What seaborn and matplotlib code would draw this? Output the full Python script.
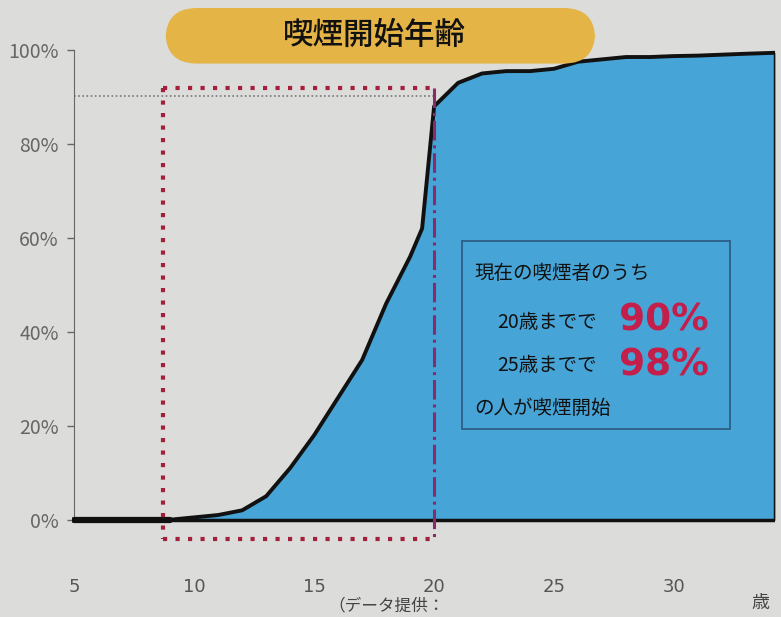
import matplotlib
matplotlib.use("Agg")
import matplotlib.pyplot as plt
from matplotlib.patches import FancyBboxPatch, Rectangle
import seaborn as sns
import pandas as pd

# ---- data ----
ages = [5, 6, 7, 8, 9, 10, 11, 12, 13, 14, 15, 16, 17, 18, 19, 19.5, 20,
        21, 22, 23, 24, 25, 26, 27, 28, 29, 30, 31, 32, 33, 34.2]
rate = [0, 0, 0, 0, 0, 0.5, 1, 2, 5, 11, 18, 26, 34, 46, 56, 62, 88,
        93, 95, 95.5, 95.5, 96, 97.5, 98, 98.5, 98.5, 98.7, 98.8, 99, 99.2, 99.4]
x_ticks = [5, 10, 15, 20, 25, 30]
y_ticks = [0, 20, 40, 60, 80, 100]
y_labels = ["0%", "20%", "40%", "60%", "80%", "100%"]
title = "喫煙開始年齢"
box_lines = ["現在の喫煙者のうち", "20歳までで", "25歳までで", "の人が喫煙開始"]
box_values = ["90%", "98%"]

df = pd.DataFrame({"age": ages, "rate": rate})

sns.set_style("white")
plt.rcParams["font.family"] = ["Noto Sans CJK JP", "DejaVu Sans"]

bg = "#dcdcda"
fig = plt.figure(figsize=(7.81, 6.17), dpi=100, facecolor=bg)
ax = fig.add_axes([0.092, 0.112, 0.90, 0.807])
ax.set_facecolor(bg)

ax.fill_between(df["age"], 0, df["rate"], color="#47a4d6", zorder=1)
sns.lineplot(data=df, x="age", y="rate", ax=ax, color="#111111", linewidth=2.8,
             zorder=3, estimator=None, sort=False)
ax.plot([5, 34.2], [0, 0], color="#111111", linewidth=2.5, zorder=3)
ax.plot([5, 9], [0, 0], color="#111111", linewidth=4.5, zorder=3)
ax.plot([34.2, 34.2], [0, 99.4], color="#111111", linewidth=2.5, zorder=3)

# guides
ax.plot([5, 20], [90.3, 90.3], color="#777777", linestyle=(0, (1, 1.5)), linewidth=1.2, zorder=2)
red = "#a3203c"
ax.plot([8.7, 20], [92, 92], color=red, linestyle=(0, (1, 2)), linewidth=3, zorder=4)
ax.plot([8.7, 8.7], [92, -4], color=red, linestyle=(0, (1, 2)), linewidth=3, zorder=4)
ax.plot([8.7, 20], [-4, -4], color=red, linestyle=(0, (1, 2)), linewidth=3, zorder=4)
ax.plot([20, 20], [92, -4], color="#8a2a6a", linestyle="-.", linewidth=2.2, zorder=4)

ax.set_xlim(4.9, 34.2)
ax.set_ylim(-6, 100)
ax.set_yticks(y_ticks)
ax.set_yticklabels(y_labels, family=["DejaVu Sans"])
ax.set_xticks(x_ticks)
ax.set_xticklabels([str(t) for t in x_ticks], family=["DejaVu Sans"])
ax.tick_params(axis="x", length=0, pad=22, labelsize=13, labelcolor="#555555")
ax.tick_params(axis="y", length=5, width=1, color="#666666", left=True, pad=6,
               labelsize=14, labelcolor="#666666")
for s in ["top", "right", "bottom"]:
    ax.spines[s].set_visible(False)
ax.spines["left"].set_bounds(0, 100)
ax.spines["left"].set_color("#666666")
ax.spines["left"].set_position(("data", 5.0))
ax.set_xlabel("")
ax.set_ylabel("")

# title bar
fig.patches.append(FancyBboxPatch((0.212, 0.897), 0.55, 0.09,
                                  boxstyle="round,pad=0,rounding_size=0.04",
                                  transform=fig.transFigure, facecolor="#e5b447",
                                  edgecolor="none", mutation_aspect=781/617))
fig.text(0.48, 0.943, title, ha="center", va="center", fontsize=22,
         fontweight="medium", color="#111111")

# annotation box
fig.patches.append(Rectangle((0.592, 0.305), 0.343, 0.305, transform=fig.transFigure,
                             facecolor="none", edgecolor="#2d5f86", linewidth=1.3, zorder=5))
fig.text(0.607, 0.557, box_lines[0], fontsize=14, color="#111111", va="center")
fig.text(0.637, 0.478, box_lines[1], fontsize=14, color="#111111", va="center")
fig.text(0.637, 0.408, box_lines[2], fontsize=14, color="#111111", va="center")
fig.text(0.607, 0.338, box_lines[3], fontsize=14, color="#111111", va="center")
fig.text(0.792, 0.480, box_values[0], fontsize=27, color="#c41e4a", fontweight="bold",
         va="center", family=["DejaVu Sans"])
fig.text(0.792, 0.408, box_values[1], fontsize=27, color="#c41e4a", fontweight="bold",
         va="center", family=["DejaVu Sans"])

# bottom texts
fig.text(0.42, 0.018, "（データ提供：", fontsize=12, color="#444444", va="center")
fig.text(0.962, 0.022, "歳", fontsize=13, color="#444444", va="center")

fig.savefig("out.png", dpi=100, facecolor=bg)
